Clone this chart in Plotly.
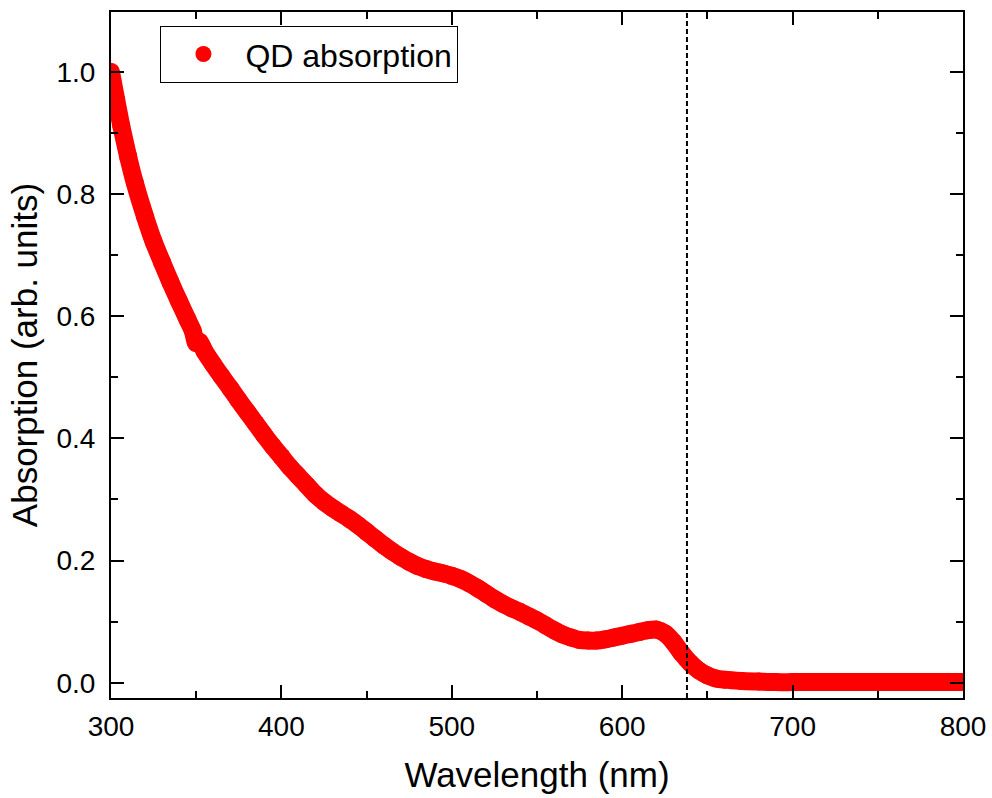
import plotly.graph_objects as go

# Absorption spectrum of the quantum-dot sample (normalised)
wavelength_nm = [
    300, 303, 306, 310, 314, 320, 325, 330, 335, 340, 345, 348, 350, 352, 355,
    360, 365, 370, 375, 380, 385, 390, 395, 400, 405, 410, 415, 420, 425, 430,
    435, 440, 445, 450, 455, 460, 465, 470, 475, 480, 485, 490, 495, 500, 505,
    510, 515, 520, 525, 530, 535, 540, 545, 550, 555, 560, 565, 570, 575, 580,
    585, 590, 595, 600, 605, 610, 615, 620, 625, 630, 635, 640, 645, 650, 655,
    660, 670, 680, 690, 700, 720, 740, 760, 780, 800,
]
absorption = [
    1.000, 0.955, 0.912, 0.862, 0.818, 0.763, 0.722, 0.688, 0.655, 0.624, 0.594, 0.576, 0.556, 0.558, 0.542,
    0.521, 0.501, 0.482, 0.462, 0.443, 0.424, 0.405, 0.387, 0.370, 0.353, 0.338, 0.323, 0.308, 0.296, 0.286,
    0.277, 0.268, 0.258, 0.247, 0.236, 0.225, 0.215, 0.206, 0.198, 0.191, 0.186, 0.182, 0.179, 0.175, 0.170,
    0.163, 0.155, 0.146, 0.137, 0.129, 0.122, 0.116, 0.109, 0.102, 0.094, 0.086, 0.079, 0.074, 0.070, 0.069,
    0.069, 0.071, 0.074, 0.077, 0.080, 0.083, 0.086, 0.087, 0.081, 0.067, 0.048, 0.032, 0.020, 0.012, 0.007,
    0.005, 0.003, 0.002, 0.001, 0.001, 0.001, 0.001, 0.001, 0.001, 0.001,
]

band_edge_nm = 638
x_range = [300, 800]
y_range = [-0.025, 1.098]
red = "#ff0000"
font_family = "Arial, Liberation Sans, sans-serif"

fig = go.Figure()

# thick curve: wide line with round dots on every sample
fig.add_trace(go.Scatter(
    x=wavelength_nm, y=absorption, mode="lines+markers",
    line=dict(color=red, width=18, shape="spline", smoothing=0.6),
    marker=dict(color=red, size=18),
    showlegend=False, hoverinfo="x+y",
))
# legend entry (dot only)
fig.add_trace(go.Scatter(
    x=[None], y=[None], mode="markers", name="QD absorption",
    marker=dict(color=red, size=20),
))

# dashed marker at the absorption edge
fig.add_shape(type="line", xref="x", yref="paper",
              x0=band_edge_nm, x1=band_edge_nm, y0=0, y1=1,
              line=dict(color="black", width=2, dash="5px,3px"))

axis_common = dict(
    showline=True, linecolor="black", linewidth=2, mirror="ticks",
    ticks="inside", ticklen=13, tickwidth=2, tickcolor="black",
    showgrid=False, zeroline=False,
    tickfont=dict(family=font_family, size=28, color="black"),
    title_font=dict(family=font_family, size=35, color="black"),
)

fig.update_xaxes(
    range=x_range, dtick=100, tick0=300,
    minor=dict(ticks="inside", ticklen=7, tickwidth=2, tickcolor="black", dtick=50),
    title_text="Wavelength (nm)", title_standoff=22,
    ticklabelstandoff=2,
    **axis_common,
)
fig.update_yaxes(
    range=y_range, dtick=0.2, tick0=0, tickformat=".1f",
    minor=dict(ticks="inside", ticklen=7, tickwidth=2, tickcolor="black", dtick=0.1),
    title_text="Absorption (arb. units)", title_standoff=8,
    ticklabelstandoff=8,
    **axis_common,
)

fig.update_layout(
    width=992, height=798,
    margin=dict(l=111, r=29, t=12, b=100, autoexpand=False),
    paper_bgcolor="white", plot_bgcolor="white",
    font=dict(family=font_family, color="black"),
    legend=dict(
        x=0.058, y=0.98, xanchor="left", yanchor="top",
        bordercolor="black", borderwidth=1, bgcolor="white",
        font=dict(family=font_family, size=32, color="black"),
        itemwidth=74,
    ),
)

fig.write_html("out.html")
